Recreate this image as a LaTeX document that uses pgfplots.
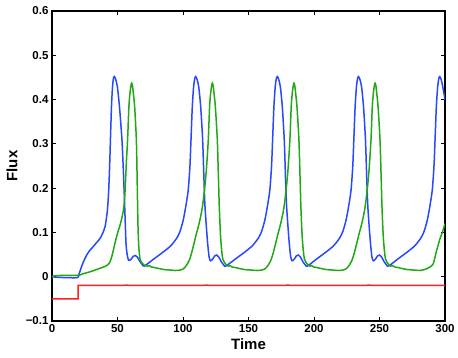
\documentclass[border=0pt]{standalone}
\usepackage{fontspec}
\setmainfont{Liberation Sans}
\usepackage{pgfplots}
\pgfplotsset{compat=1.18}
\definecolor{cBlue}{RGB}{40,72,255}
\definecolor{cGreen}{RGB}{34,168,20}
\definecolor{cRed}{RGB}{255,30,30}
\begin{document}
\begin{tikzpicture}
\useasboundingbox (-52pt,-36pt) rectangle (406pt,321pt);
\begin{axis}[
  at={(0pt,0pt)}, anchor=south west,
  scale only axis, width=393pt, height=310pt,
  xmin=0, xmax=300, ymin=-0.1, ymax=0.6,
  xtick={0,50,100,150,200,250,300},
  ytick={-0.1,0,0.1,0.2,0.3,0.4,0.5,0.6},
  yticklabels={−0.1,0,0.1,0.2,0.3,0.4,0.5,0.6},
  xtick pos=both, ytick pos=both,
  xticklabel pos=lower, yticklabel pos=left,
  tick align=inside, major tick length=4pt,
  minor tick num=0,
  axis line style={line width=1.2pt},
  every tick/.style={line width=0.9pt, black},
  tick label style={font=\fontsize{11.5}{13}\selectfont\bfseries},
  /pgf/number format/assume math mode=true,
  xlabel={Time}, ylabel={Flux},
  label style={font=\fontsize{15}{17}\selectfont\bfseries},
  xlabel style={at={(axis description cs:0.5,-0.045)}, anchor=north},
  ylabel style={at={(axis description cs:-0.079,0.5)}, anchor=south, rotate=0},
  clip=true,
]
% blue
\addplot[color=cBlue, line width=1.5pt, smooth, tension=0.4] coordinates {
(0,0) (3,-0.001) (10,-0.002) (19.5,-0.002) (20.5,0.005) (22.6,0.023) (24.5,0.037) (26.5,0.049) (29,0.060) (31.5,0.068) (34,0.077) (36.6,0.086) (38.5,0.097) (40.5,0.113) (42.2,0.147) (43.2,0.190) (44.0,0.250) (44.6,0.309) (45.4,0.384) (46.2,0.429) (46.9,0.448) (47.6,0.452)
(48.6,0.446) (49.9,0.429) (51.5,0.384) (53.4,0.309) (54.6,0.230) (55.5,0.158) (56.5,0.075) (57.5,0.048) (58.5,0.037) (60.2,0.039) (62,0.046) (63.5,0.048) (65,0.045) (67,0.035) (69,0.027) (70.5,0.024)
(77.7,0.040) (85.0,0.056) (90.7,0.070) (95.2,0.087) (97.7,0.102) (100.2,0.128) (102.2,0.160) (104.0,0.196) (105.3,0.250) (106.1,0.309) (107.1,0.384) (108.1,0.429) (109.0,0.448) (109.7,0.452) (110.7,0.446) (112.0,0.429) (113.5,0.384) (115.0,0.309) (116.0,0.220) (116.8,0.158) (118.6,0.083) (119.9,0.045) (121.0,0.036) (122.7,0.040) (124.2,0.047) (125.7,0.049) (127.2,0.045) (129.2,0.034) (131.2,0.026) (132.7,0.024)
(140,0.040) (147.3,0.056) (153,0.070) (157.5,0.087) (160,0.102) (162.5,0.128) (164.5,0.160) (166.3,0.196) (167.6,0.250) (168.4,0.309) (169.4,0.384) (170.4,0.429) (171.3,0.448) (172,0.452) (173,0.446) (174.3,0.429) (175.8,0.384) (177.3,0.309) (178.3,0.220) (179.1,0.158) (180.9,0.083) (182.2,0.045) (183.3,0.036) (185,0.040) (186.5,0.047) (188,0.049) (189.5,0.045) (191.5,0.034) (193.5,0.026) (195,0.024)
(202,0.040) (209.3,0.056) (215,0.070) (219.5,0.087) (222,0.102) (224.5,0.128) (226.5,0.160) (228.3,0.196) (229.6,0.250) (230.4,0.309) (231.4,0.384) (232.4,0.429) (233.3,0.448) (234,0.452) (235,0.446) (236.3,0.429) (237.8,0.384) (239.3,0.309) (240.3,0.220) (241.1,0.158) (242.9,0.083) (244.2,0.045) (245.3,0.036) (247,0.040) (248.5,0.047) (250,0.049) (251.5,0.045) (253.5,0.034) (255.5,0.026) (257,0.024)
(264,0.040) (271.3,0.056) (277,0.070) (281.5,0.087) (284,0.102) (286.5,0.128) (288.5,0.160) (290.3,0.196) (291.6,0.250) (292.4,0.309) (293.4,0.384) (294.4,0.429) (295.3,0.448) (296,0.452) (297,0.446) (298.3,0.429) (300,0.400)
};
% green
\addplot[color=cGreen, line width=1.5pt, smooth, tension=0.4] coordinates {
(0,0) (2,0.002) (8,0.003) (20,0.003) (23,0.006) (26.5,0.009) (31,0.013) (36.6,0.019) (41.7,0.025) (44,0.032) (45.6,0.045) (47,0.062) (48,0.075) (50,0.098) (52,0.117) (53.5,0.135) (54.7,0.154) (55.5,0.180) (56.2,0.220) (56.8,0.260) (57.7,0.309) (58.7,0.384) (59.5,0.414) (60.3,0.432) (60.8,0.437)
(61.4,0.432) (62.1,0.414) (63.1,0.384) (64.4,0.309) (65.0,0.220) (65.6,0.120) (66.2,0.070) (67.2,0.040) (69,0.030) (71,0.025) (73,0.024) (74.3,0.025) (75.8,0.022) (77.8,0.021) (80.8,0.019) (85.8,0.016) (90.8,0.015)
(94.4,0.014) (97.7,0.015) (100.4,0.018) (102.7,0.026) (104.9,0.038) (106.5,0.053) (108.4,0.075) (110.3,0.098) (111.6,0.112) (112.9,0.128) (114.4,0.150) (115.5,0.173) (116.9,0.210) (118.0,0.248) (119.3,0.309) (120.3,0.384) (121.1,0.414) (121.9,0.432) (122.4,0.437) (123.0,0.432) (123.7,0.414) (124.7,0.384) (126.2,0.309) (127.0,0.230) (127.7,0.158) (128.6,0.095) (129.5,0.060) (130.4,0.040) (132.1,0.030) (133.4,0.026) (134.6,0.024) (135.9,0.025) (137.4,0.022) (139.4,0.021) (142.4,0.019) (147.4,0.016) (152.4,0.015)
(156.7,0.014) (160.0,0.015) (162.7,0.018) (165.0,0.026) (167.2,0.038) (168.8,0.053) (170.7,0.075) (172.6,0.098) (173.9,0.112) (175.2,0.128) (176.7,0.150) (177.8,0.173) (179.2,0.210) (180.3,0.248) (181.6,0.309) (182.6,0.384) (183.4,0.414) (184.2,0.432) (184.7,0.437) (185.3,0.432) (186.0,0.414) (187.0,0.384) (188.5,0.309) (189.3,0.230) (190.0,0.158) (190.9,0.095) (191.8,0.060) (192.7,0.040) (194.4,0.030) (195.7,0.026) (196.9,0.024) (198.2,0.025) (199.7,0.022) (201.7,0.021) (204.7,0.019) (209.7,0.016) (214.7,0.015)
(218.6,0.014) (221.9,0.015) (224.6,0.018) (226.9,0.026) (229.1,0.038) (230.7,0.053) (232.6,0.075) (234.5,0.098) (235.8,0.112) (237.1,0.128) (238.6,0.150) (239.7,0.173) (241.1,0.210) (242.2,0.248) (243.5,0.309) (244.5,0.384) (245.3,0.414) (246.1,0.432) (246.6,0.437) (247.2,0.432) (247.9,0.414) (248.9,0.384) (250.4,0.309) (251.2,0.230) (251.9,0.158) (252.8,0.095) (253.7,0.060) (254.6,0.040) (256.3,0.030) (257.6,0.026) (258.8,0.024) (260.1,0.025) (261.6,0.022) (263.6,0.021) (266.6,0.019) (271.6,0.016) (276.6,0.015)
(281,0.014) (284,0.016) (286,0.018) (288.5,0.022) (291,0.029) (293.6,0.059) (296.2,0.086) (298,0.100) (300,0.120)
};
% red
\addplot[color=cRed, line width=1.5pt] coordinates {
(0,-0.050) (20,-0.050) (20,-0.0195) (55,-0.0195) (57,-0.0188) (59,-0.0195) (116,-0.0195) (118,-0.0188) (120,-0.0195) (178,-0.0195) (180,-0.0188) (182,-0.0195) (240,-0.0195) (242,-0.0188) (244,-0.0195) (300,-0.0195)
};
\end{axis}
\end{tikzpicture}
\end{document}
